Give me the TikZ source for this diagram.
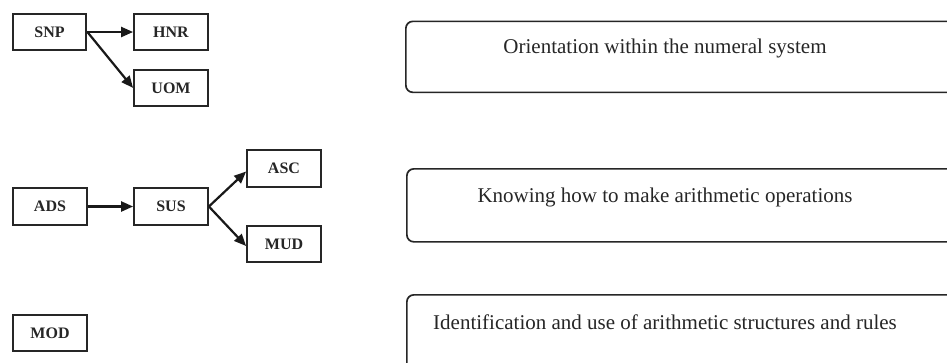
\documentclass[tikz,border=0pt]{standalone}
\usepackage{fontspec}
\setmainfont{Liberation Serif}
\usetikzlibrary{arrows.meta}
\begin{document}
\begin{tikzpicture}[x=1pt,y=-1pt,
  codebox/.style={draw=black!85, line width=2.3pt, rectangle, minimum width=73.5pt, minimum height=36.5pt, inner sep=0pt,
    font=\fontsize{16}{18}\selectfont\bfseries, text=black!85},
  roundbox/.style={draw=black!85, line width=1.7pt, rectangle, rounded corners=7pt, inner sep=0pt},
  label/.style={font=\fontsize{21}{25}\selectfont, text=black!85, inner sep=0pt},
  conn/.style={draw=black!90, line width=2.2pt, -{Triangle[length=12pt,width=10pt]}}]
\useasboundingbox (0,0) rectangle (947,362);
\clip (0,0) rectangle (947,362);
\fill[white] (0,0) rectangle (947,362);
% small boxes
\node[codebox] (snp) at (49.5,32) {SNP};
\node[codebox] (hnr) at (171,32) {HNR};
\node[codebox] (uom) at (171,88) {UOM};
\node[codebox] (ads) at (50,206.5) {ADS};
\node[codebox] (sus) at (171,206.5) {SUS};
\node[codebox] (asc) at (284,168.5) {ASC};
\node[codebox] (mud) at (284,244) {MUD};
\node[codebox] (mod) at (50,333) {MOD};
% connectors
\draw[conn] (snp.east) -- (hnr.west);
\draw[conn] (snp.east) -- (uom.west);
\draw[conn] (ads.east) -- (sus.west);
\draw[conn] (sus.east) -- ([yshift=-3pt]asc.west);
\draw[conn] (sus.east) -- ([yshift=-2pt]mud.west);
% rounded boxes (extending beyond the frame)
\node[roundbox, minimum width=600pt, minimum height=71pt, anchor=north west] (b1) at (405,20.5) {};
\node[roundbox, minimum width=600pt, minimum height=73pt, anchor=north west] (b2) at (406,168) {};
\node[roundbox, minimum width=600pt, minimum height=110pt, anchor=north west] (b3) at (406,294) {};
\node[label] (t1) at (665,48) {Orientation within the numeral system};
\node[label] (t2) at (665,197) {Knowing how to make arithmetic operations};
\node[label] (t3) at (665,322) {Identification and use of arithmetic structures and rules};
\end{tikzpicture}
\end{document}
